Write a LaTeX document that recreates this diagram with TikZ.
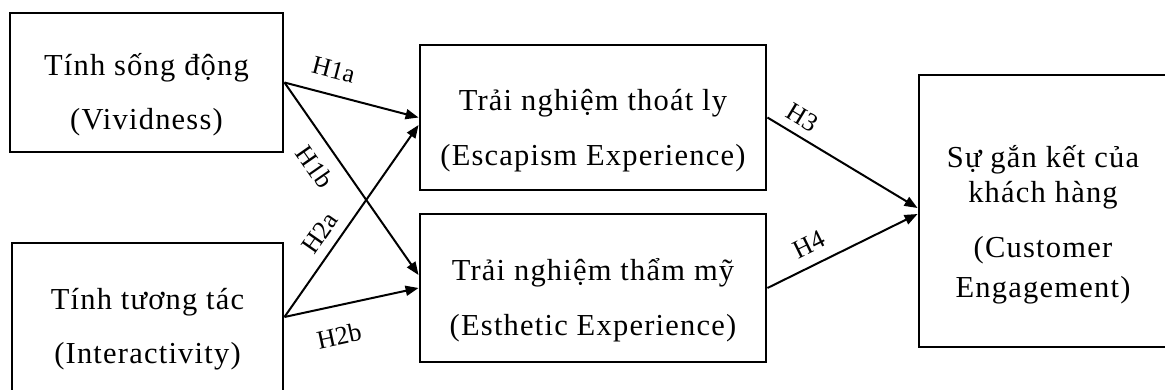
\documentclass[tikz,border=0pt]{standalone}
\usepackage{fontspec}
\setmainfont{Liberation Serif}
\newfontfamily\capfont[LetterSpace=4]{Liberation Serif}
\usetikzlibrary{arrows.meta}
\begin{document}
\begin{tikzpicture}[x=1pt,y=-1pt,
  box/.style={draw, line width=2.9pt, rectangle, inner sep=0pt},
  txt/.style={anchor=base, inner sep=0pt, font=\capfont\fontsize{30.5}{36}\selectfont},
  hyp/.style={font=\fontsize{26}{30}\selectfont, inner sep=0pt, sloped},
  link/.style={line width=2pt, -{Triangle[length=13pt,width=10pt]}}]
\clip (0,0) rectangle (1165,389);

% construct boxes
\node[box, minimum width=273pt, minimum height=139pt] (viv) at (146.5,82.5) {};
\node[box, minimum width=271pt, minimum height=148pt] (int) at (147.5,317) {};
\node[box, minimum width=346pt, minimum height=145pt] (esc) at (593,117.5) {};
\node[box, minimum width=346pt, minimum height=148pt] (aes) at (593,288) {};
\node[box, minimum width=248pt, minimum height=272pt] (eng) at (1043,211) {};

% box captions, one node per line
\node[txt] (viv1) at (146.5,75)  {Tính sống động};
\node[txt] (viv2) at (146.5,129) {(Vividness)};
\node[txt] (int1) at (147.5,309) {Tính tương tác};
\node[txt] (int2) at (147.5,363) {(Interactivity)};
\node[txt] (esc1) at (593,110)   {Trải nghiệm thoát ly};
\node[txt] (esc2) at (593,165)   {(Escapism Experience)};
\node[txt] (aes1) at (593,280)   {Trải nghiệm thẩm mỹ};
\node[txt] (aes2) at (593,335)   {(Esthetic Experience)};
\node[txt] (eng1) at (1043,167)  {Sự gắn kết của};
\node[txt] (eng2) at (1043,202)  {khách hàng};
\node[txt] (eng3) at (1043,257)  {(Customer};
\node[txt] (eng4) at (1043,297)  {Engagement)};

% hypothesised paths
\draw[link] (viv.east) -- (esc.west)
  node[hyp, pos=.32, above=15pt] {H1a};
\draw[link] (viv.east) -- ([yshift=13pt]aes.west)
  node[hyp, pos=.37, below=13pt] {H1b};
\draw[link] (int.east) -- ([yshift=-7.5pt]esc.west)
  node[hyp, pos=.38, above=9pt] {H2a};
\draw[link] (int.east) -- (aes.west)
  node[hyp, pos=.36, below=20pt] {H2b};
\draw[link] (esc.east) -- ([yshift=3pt]eng.west)
  node[hyp, pos=.17, above=8.5pt] {H3};
\draw[link] (aes.east) -- ([yshift=-3pt]eng.west)
  node[hyp, pos=.34, above=11pt] {H4};
\end{tikzpicture}
\end{document}
